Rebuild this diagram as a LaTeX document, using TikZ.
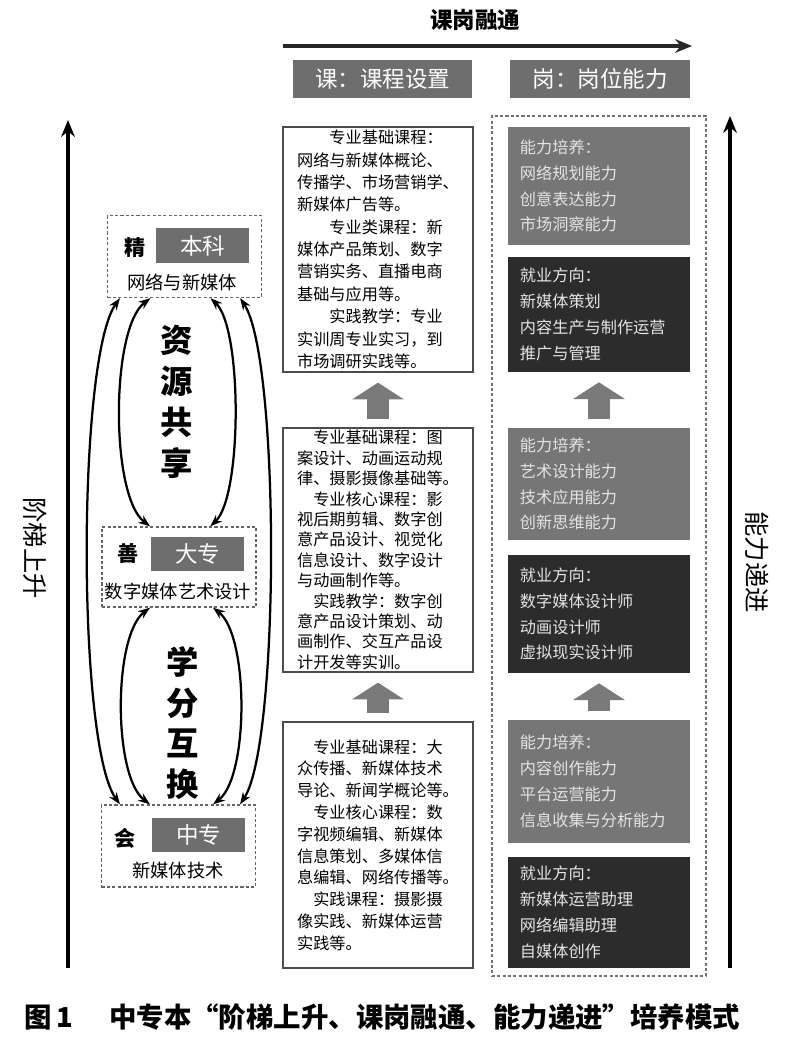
\documentclass[tikz,border=0pt]{standalone}
\usepackage{fontspec}
\setmainfont{Noto Sans CJK SC}
\usepackage{tikz}
\usetikzlibrary{arrows.meta,calc}
\definecolor{hdgray}{HTML}{6E6E6E}
\definecolor{nlgray}{HTML}{767676}
\definecolor{jydark}{HTML}{2C2C2C}
\definecolor{txlight}{HTML}{E4E4E4}
\definecolor{arrgray}{HTML}{7A7A7A}
\newcommand{\fsz}[2]{\fontsize{#1}{#2}\selectfont}
\tikzset{
  kebox/.style    = {draw=black!70, line width=0.9pt, minimum width=4.75cm, align=left, inner sep=1pt},
  hdbox/.style    = {fill=hdgray, text=white, minimum height=0.95cm, font=\fsz{16}{19}},
  nlbox/.style    = {fill=nlgray, text=txlight, minimum width=4.55cm, text width=3.95cm, align=left, font=\fsz{11.5}{18.4}},
  jybox/.style    = {nlbox, fill=jydark},
  lvbox/.style    = {draw=black!60, dash pattern=on 2.2pt off 1.6pt, line width=0.9pt, minimum width=3.85cm, minimum height=2.05cm},
  lvtag/.style    = {fill=hdgray, text=white, minimum width=2.3cm, minimum height=0.87cm, font=\fsz{16}{18}},
  lvchar/.style   = {font=\fsz{15}{17}\bfseries},
  lvsub/.style    = {font=\fsz{13}{15}},
  bigword/.style  = {align=center, font=\fsz{23}{29}\bfseries},
  blockarr/.style = {arrgray, line width=0.55cm, -{Triangle[length=0.42cm,width=1.3cm,line width=0pt]}, shorten <=0.22cm, shorten >=0.25cm},
  risearr/.style  = {-{Stealth[length=4.2mm,width=3.4mm]}, line width=2.2pt},
  arcarr/.style   = {{Stealth[length=3mm,width=2.2mm]}-{Stealth[length=3mm,width=2.2mm]}, line width=1.6pt},
  sidelbl/.style  = {rotate=-90, font=\fsz{18}{20}}
}

\begin{document}
\begin{tikzpicture}[x=0.025cm,y=-0.025cm]
  \useasboundingbox (0,0) rectangle (800,1043);
  % course -- post
  \coordinate (kgL) at (283,46);
  \coordinate (kgR) at (692,46);
  \draw[risearr,line width=3pt,black!85] (kgL) -- (kgR);
  \node[font=\fsz{16}{18}\bfseries] (kgrt) at (475,20) {课岗融通};
  \node[hdbox,minimum width=4.475cm] (hdke) at (382.5,79) {课：课程设置};
  \node[hdbox,minimum width=4.5cm]   (hdgw) at (600,79) {岗：岗位能力};

  % the two rising arrows at the sides
  \coordinate (jtB) at (68,968);
  \coordinate (jtT) at (68,120);
  \draw[risearr] (jtB) -- (jtT);
  \node[sidelbl] (jtlbl) at (35,548) {阶梯上升};
  \coordinate (nlB) at (730,968);
  \coordinate (nlT) at (730,116);
  \draw[risearr] (nlB) -- (nlT);
  \node[sidelbl] (nllbl) at (757,562) {能力递进};

  % levels
  \node[lvbox] (lv1) at (184.5,256.5) {};
  \node[lvchar] (lv1c) at (135,248) {精};
  \node[lvtag]  (lv1t) at (202.5,245.5) {本科};
  \node[lvsub]  (lv1s) at (182,282) {网络与新媒体};
  \node[lvbox,minimum height=2cm] (lv2) at (179,567) {};
  \node[lvchar] (lv2c) at (128,553) {善};
  \node[lvtag]  (lv2t) at (197.5,554) {大专};
  \node[lvsub]  (lv2s) at (178,592) {数字媒体艺术设计};
  \node[lvbox] (lv3) at (178.5,846) {};
  \node[lvchar] (lv3c) at (125,838) {会};
  \node[lvtag]  (lv3t) at (198.5,835) {中专};
  \node[lvsub]  (lv3s) at (178,871) {新媒体技术};

  \node[bigword] (zygx) at (177,402) {资\\源\\共\\享};
  \node[bigword] (xfhh) at (183,723) {学\\分\\互\\换};

  \draw[arcarr] ([xshift=-0.85cm]lv1.south) .. controls +(-40,30) and +(-40,-30) .. ([xshift=-0.72cm]lv2.north);
  \draw[arcarr] ([xshift=0.65cm]lv1.south) .. controls +(32,30) and +(32,-30) .. ([xshift=0.78cm]lv2.north);
  \draw[arcarr] ([xshift=-0.725cm]lv2.south) .. controls +(-37,28) and +(-37,-28) .. ([xshift=-0.7125cm]lv3.north);
  \draw[arcarr] ([xshift=0.85cm]lv2.south) .. controls +(36,28) and +(36,-28) .. ([xshift=0.8625cm]lv3.north);
  \draw[arcarr] ([xshift=-1.6125cm]lv1.south) .. controls +(-43,60) and +(-43,-60) .. ([xshift=-1.4625cm]lv3.north);
  \draw[arcarr] ([xshift=1.39cm]lv1.south) .. controls +(40,60) and +(40,-60) .. ([xshift=1.5375cm]lv3.north);

  % courses
  \node[kebox,minimum height=6.125cm,font=\fsz{11.5}{15.9}] (kc1) at (378,249.5) {%
    \hspace*{2em}专业基础课程：\\网络与新媒体概论、\\传播学、市场营销学、\\新媒体广告等。\\
    \hspace*{2em}专业类课程：新\\媒体产品策划、数字\\营销实务、直播电商\\基础与应用等。\\
    \hspace*{2em}实践教学：专业\\实训周专业实习，到\\市场调研实践等。};
  \node[kebox,minimum height=6.1cm,font=\fsz{11.5}{14.5}] (kc2) at (378,550) {%
    \hspace*{1em}专业基础课程：图\\案设计、动画运动规\\律、摄影摄像基础等。\\
    \hspace*{1em}专业核心课程：影\\视后期剪辑、数字创\\意产品设计、视觉化\\信息设计、数字设计\\与动画制作等。\\
    \hspace*{1em}实践教学：数字创\\意产品设计策划、动\\画制作、交互产品设\\计开发等实训。};
  \node[kebox,minimum height=6.15cm,font=\fsz{11.5}{15.5}] (kc3) at (378,845) {%
    \hspace*{1em}专业基础课程：大\\众传播、新媒体技术\\导论、新闻学概论等。\\
    \hspace*{1em}专业核心课程：数\\字视频编辑、新媒体\\信息策划、多媒体信\\息编辑、网络传播等。\\
    \hspace*{1em}实践课程：摄影摄\\像实践、新媒体运营\\实践等。};
  \draw[blockarr] (kc3.north) -- (kc2.south);
  \draw[blockarr] (kc2.north) -- (kc1.south);

  % posts
  \node[draw=black!55, dash pattern=on 2.2pt off 1.6pt, line width=0.9pt, minimum width=5.35cm, minimum height=21.5cm] (gwfr) at (599,546) {};
  \node[nlbox,minimum height=2.95cm]  (nl1) at (599,186) {能力培养：\\网络规划能力\\创意表达能力\\市场洞察能力};
  \node[jybox,minimum height=2.875cm] (jy1) at (599,314.5) {就业方向：\\新媒体策划\\内容生产与制作运营\\推广与管理};
  \node[nlbox,minimum height=2.8cm]   (nl2) at (599,484) {能力培养：\\艺术设计能力\\技术应用能力\\创新思维能力};
  \node[jybox,minimum height=2.95cm]  (jy2) at (599,614) {就业方向：\\数字媒体设计师\\动画设计师\\虚拟现实设计师};
  \node[nlbox,minimum height=3.075cm] (nl3) at (599,781.5) {能力培养：\\内容创作能力\\平台运营能力\\信息收集与分析能力};
  \node[jybox,minimum height=2.775cm] (jy3) at (599,912.5) {就业方向：\\新媒体运营助理\\网络编辑助理\\自媒体创作};
  \draw[blockarr] (nl3.north) -- (jy2.south);
  \draw[blockarr] (nl2.north) -- (jy1.south);

  \node[anchor=west,font=\fsz{19.5}{22}\bfseries] (capt) at (20,1017) {图\,1\hspace{1.3em}中专本“阶梯上升、课岗融通、能力递进”培养模式};
\end{tikzpicture}
\end{document}
